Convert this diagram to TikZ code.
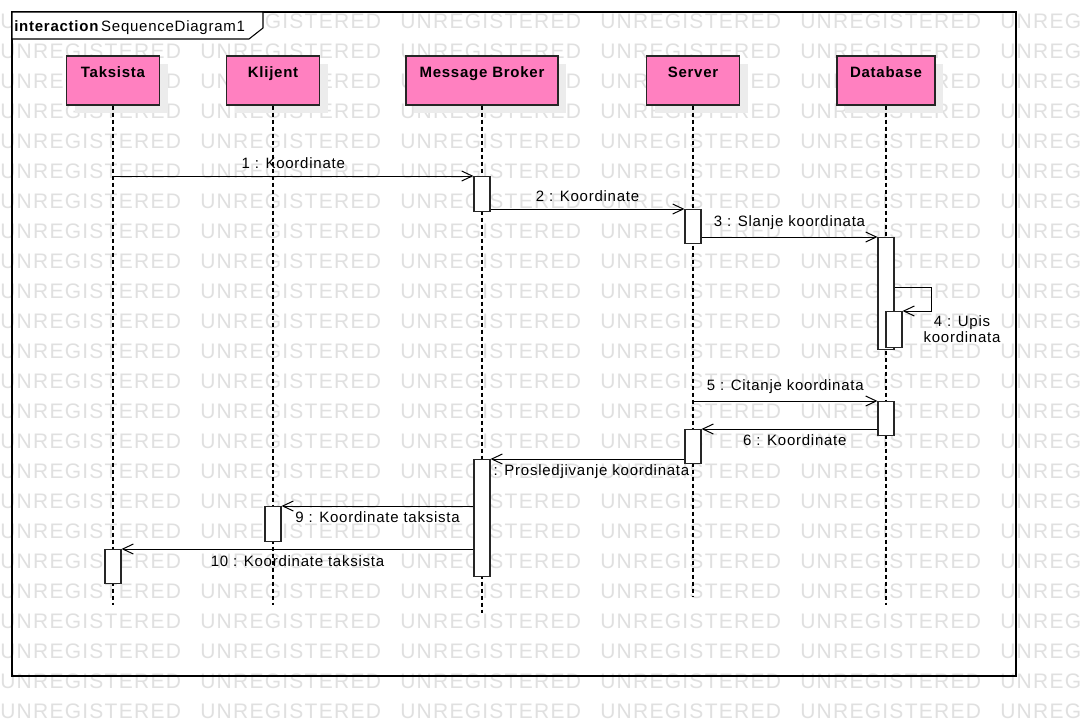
\documentclass[tikz,border=0pt]{standalone}
\usepackage{fontspec}
\setmainfont{Liberation Sans}[LetterSpace=5]
\newfontfamily\wmfont{Liberation Sans}[LetterSpace=6]
\usetikzlibrary{calc,positioning,arrows.meta}
\newlength{\upx}
\setlength{\upx}{0.75pt}
\definecolor{headpink}{RGB}{255,128,192}
\definecolor{wmgray}{RGB}{224,224,224}
\definecolor{shadowgray}{RGB}{236,236,236}
\tikzset{
  head/.style={draw=black!85, line width=0.8pt, fill=headpink, minimum width=93\upx, minimum height=49\upx, inner ysep=0pt, text height=12.5\upx, text depth=19.5\upx, font=\fontsize{11.25}{13}\selectfont\bfseries},
  act/.style={draw=black!85, line width=0.8pt, fill=white, minimum width=16\upx, minimum height=#1\upx, inner sep=0pt},
  life/.style={line width=0.8pt, dash pattern=on 3pt off 2.25pt},
  msg/.style={line width=0.75pt, -{Straight Barb[length=8pt,width=7.5pt]}},
  lbl/.style={font=\fontsize{11.25}{13}\selectfont, inner sep=1.5pt},
  wm/.style={text=wmgray, font=\wmfont\fontsize{15.75}{18}\selectfont, inner sep=0pt, anchor=base west},
}
\begin{document}
\begin{tikzpicture}[x=0.75pt, y=-0.75pt]
  \useasboundingbox (0,0) rectangle (1080,726);
  \clip (0,0) rectangle (1080,726);
  \fill[white] (0,0) rectangle (1080,726);
  \foreach \r in {0,...,23}
    \foreach \c in {0,...,5}
      \node[wm] at (200*\c, 28+30*\r) {UNREGISTERED};

  \draw[line width=1.1pt] (12,12) rectangle (1016,676);
  \draw[fill=white, line width=0.8pt] (12,12) -- (263,12) -- (263,28) -- (249,39) -- (12,39) -- cycle;
  \node[lbl, anchor=base west, inner sep=0pt] (title) at (14,31) {\textbf{interaction}\hspace{1.5pt}SequenceDiagram1};

  \foreach \x/\w in {113/93, 273/93, 482/152, 693/93, 886/98}
    \fill[shadowgray] (\x-\w/2+8, 64) rectangle (\x+\w/2+8, 113);
  \node[head] (tak) at (113,80.5) {Taksista};
  \node[head] (kli) at (273,80.5) {Klijent};
  \node[head, minimum width=152\upx] (mb) at (482,80.5) {Message Broker};
  \node[head] (srv) at (693,80.5) {Server};
  \node[head, minimum width=98\upx] (db) at (886,80.5) {Database};

  \foreach \n/\y in {tak/605, kli/605, mb/613, srv/597, db/605} {
    \coordinate (\n end) at (\n.south |- 0,\y);
    \draw[life] (\n.south) -- (\n end);
  }

  \node[act=35, anchor=north] (b1) at (482,176) {};
  \node[act=34, anchor=north] (s1) at (693,209) {};
  \node[act=112, anchor=north] (d1) at (886,237) {};
  \node[act=36, anchor=north] (d2) at (894,311) {};
  \node[act=34, anchor=north] (d3) at (886,401) {};
  \node[act=34, anchor=north] (s2) at (693,429) {};
  \node[act=117, anchor=north] (b2) at (482,459) {};
  \node[act=35, anchor=north] (k1) at (273,506) {};
  \node[act=34, anchor=north] (t1) at (113,549) {};

  \draw[msg] (tak |- b1.north) -- (b1.north west) node[lbl, midway, above=4pt] {1 : Koordinate};
  \draw[msg] (b1.east |- s1.north) -- (s1.north west) node[lbl, midway, above=4pt] {2 : Koordinate};
  \draw[msg] (s1.east |- d1.north) -- (d1.north west) node[lbl, midway, above=4pt] {3 : Slanje koordinata};
  \draw[msg] ($(d1.north east)+(0,50)$) -- ++(37,0) |- (d2.north east);
  \node[lbl, align=center] (upis) at (962,329) {4 : Upis\\[-1pt]koordinata};
  \draw[msg] (srv |- d3.north) -- (d3.north west) node[lbl, midway, above=4pt] {5 : Citanje koordinata};
  \draw[msg] (d3.west |- s2.north) -- (s2.north east) node[lbl, midway, below=2pt, xshift=4pt] {6 : Koordinate};
  \draw[msg] (s2.west |- b2.north) -- (b2.north east) node[lbl, midway, below=2pt, xshift=3pt] {: Prosledjivanje koordinata};
  \draw[msg] (b2.west |- k1.north) -- (k1.north east) node[lbl, midway, below=2pt] {9 : Koordinate taksista};
  \draw[msg] (b2.west |- t1.north) -- (t1.north east) node[lbl, midway, below=3pt] {10 : Koordinate taksista};
\end{tikzpicture}
\end{document}
